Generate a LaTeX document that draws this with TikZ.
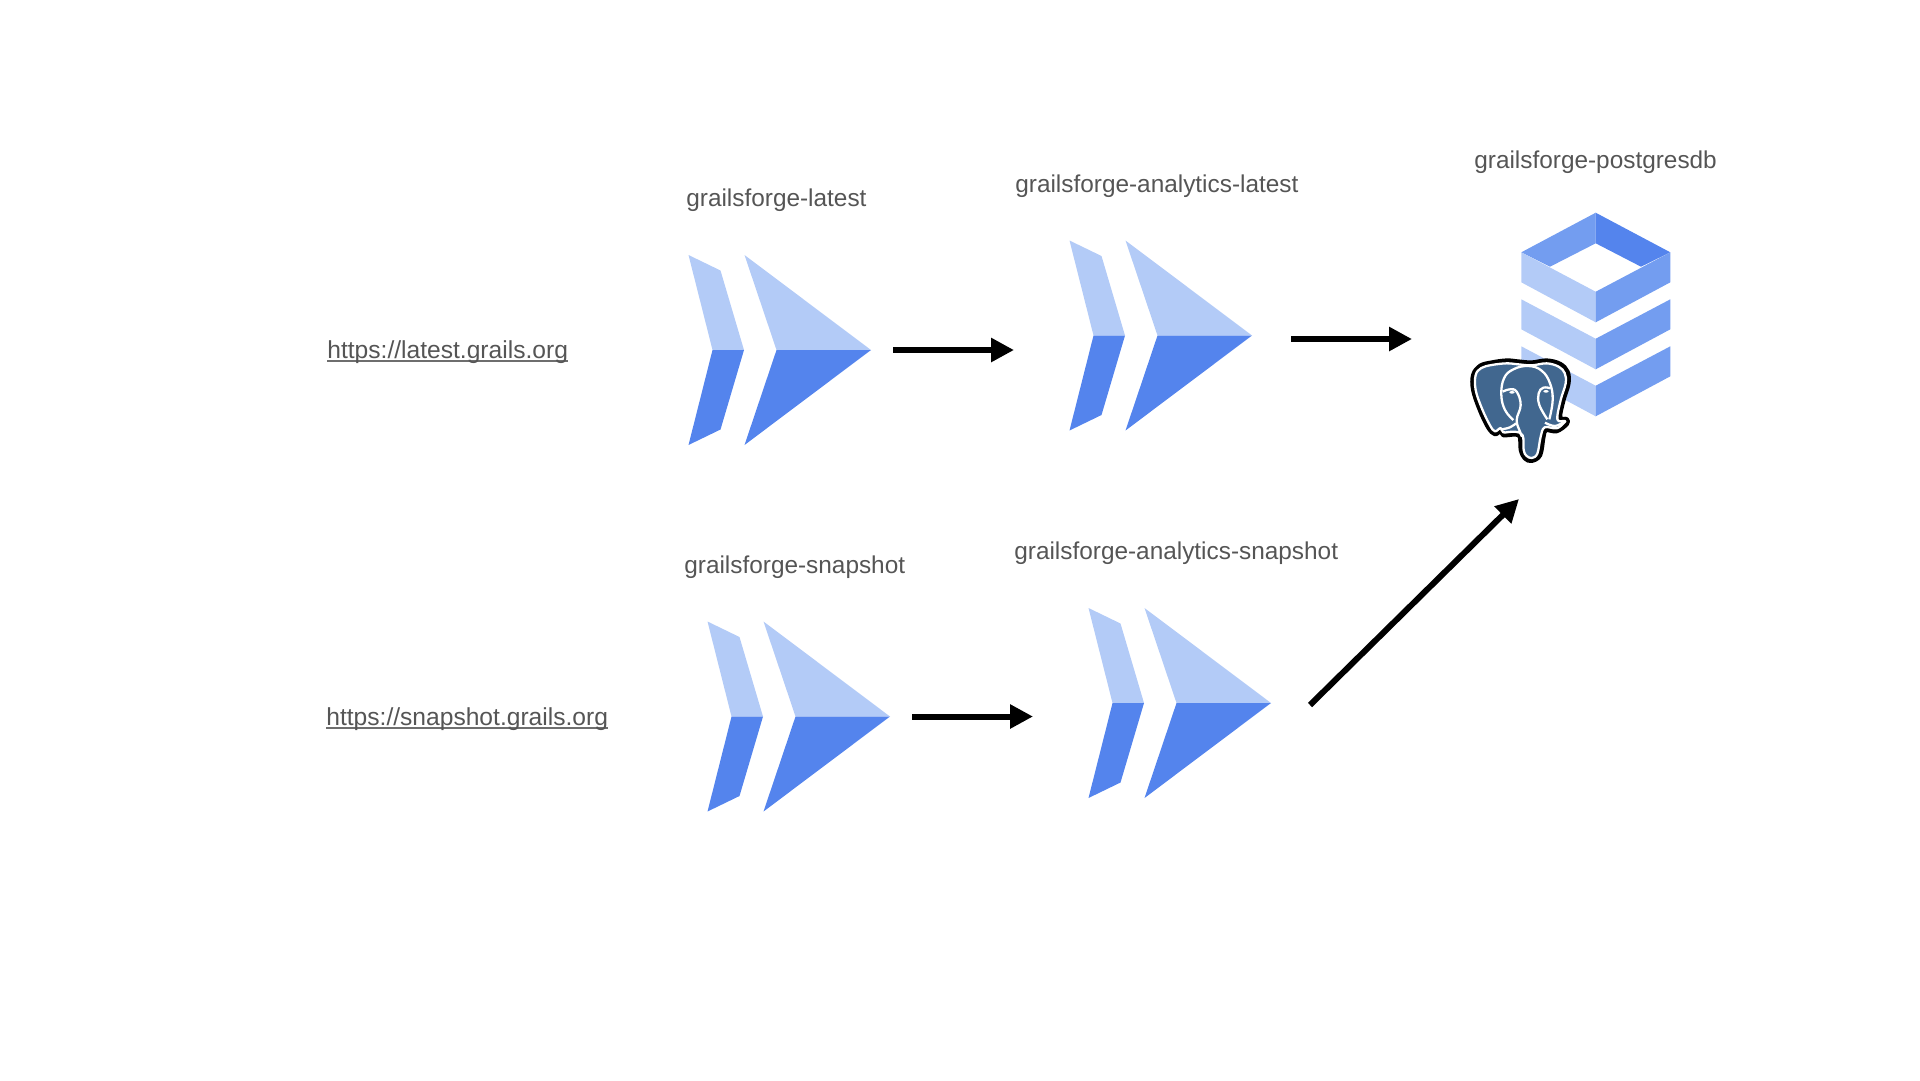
\documentclass[tikz,border=0pt]{standalone}
\usepackage{fontspec}
\setmainfont{Liberation Sans}
\definecolor{lightblue}{HTML}{B3CBF7}
\definecolor{midblue}{HTML}{739DF0}
\definecolor{darkblue}{HTML}{5484ED}
\definecolor{pgblue}{HTML}{41678F}
\definecolor{labelgray}{HTML}{555555}
\usetikzlibrary{arrows.meta}
\newcommand{\urlline}[1]{\setbox0\hbox{\fontsize{14}{16}\selectfont #1}\rlap{\color{labelgray!85}\rule[-2.1pt]{\wd0}{0.7pt}}\box0}
\tikzset{
  label/.style={anchor=base west,inner sep=0pt,text=labelgray,font=\fontsize{13.87}{16}\selectfont},
  chevbox/.style={inner sep=0pt,minimum width=3.65cm,minimum height=3.8cm},
  flow/.style={line width=3.4pt,-{Triangle[length=13pt,width=13pt]},black},
  pgline/.style={white,line width=1.3pt}
}
\begin{document}
\begin{tikzpicture}
        [
          x=0.02cm,
          y=-0.02cm
        ]
        \useasboundingbox (0,0) rectangle (1920,1080);
        % chevrons
        \foreach \name/\x/\y in {latest/688.5/350,analyticslatest/1069.5/335.5,snapshot/707.5/716.5,analyticssnapshot/1088.5/703} {
            \node [chevbox] (\name) at (\x+91.25,\y) {};
            \begin{scope}[shift={(\x,\y)}]
                \fill [lightblue] (0,-95) -- (32,-79.5) -- (55.5,0) -- (24,0) -- cycle;
                \fill [lightblue] (56,-95) -- (182.5,0) -- (88,0) -- cycle;
                \fill [darkblue] (0,95) -- (32,79.5) -- (55.5,0) -- (24,0) -- cycle;
                \fill [darkblue] (56,95) -- (182.5,0) -- (88,0) -- cycle;
            \end{scope}
        }
        % database stack
        \node [inner sep=0pt,minimum width=2.98cm,minimum height=4.06cm] (postgresdb) at (1595.7,314) {};
        \fill [midblue] (1521.3,252.3) -- (1595.7,212.7) -- (1595.7,243.3) -- (1550,266.7) -- cycle;
        \fill [darkblue] (1670.3,252.3) -- (1595.7,212.7) -- (1595.7,243.3) -- (1641,266.7) -- cycle;
        \foreach \z in {0,47,94} {
            \fill [lightblue] (1521.3,252.3+\z) -- (1595.7,291.7+\z) -- (1595.7,322.3+\z) -- (1521.3,282.3+\z) -- cycle;
            \fill [midblue] (1670.3,252.3+\z) -- (1595.7,291.7+\z) -- (1595.7,322.3+\z) -- (1670.3,282.3+\z) -- cycle;
        }
        % elephant
        \begin{scope}[shift={(1460,340)},x=0.00667cm,y=-0.00667cm]
            \draw [black,line width=2.6pt,fill=pgblue,line join=round]
            plot [smooth cycle,tension=0.6] coordinates {(95,68) (60,78) (40,105) (40,150) (60,210) (85,262) (105,282) (122,272) (130,285) (165,283) (180,290) (183,330) (195,355) (215,362) (240,345) (250,290) (258,270) (290,273) (320,252) (320,238) (300,232) (310,180) (325,130) (322,95) (300,72) (260,62) (215,68) (175,65) (140,62)};
            \draw [pgline,line join=round]
            plot [smooth cycle,tension=0.6] coordinates {(95,75) (64,84) (47,105) (47,150) (66,206) (90,256) (105,274) (122,264) (130,277) (165,275) (188,286) (191,330) (199,347) (215,354) (232,341) (242,290) (254,262) (290,265) (312,248) (314,243) (292,238) (302,180) (317,130) (314,99) (296,80) (260,70) (215,76) (175,73) (140,70)};
            \draw [pgline]
            plot [smooth,tension=0.7] coordinates {(160,240) (135,210) (124,165) (132,115) (160,88) (205,78) (245,92) (270,130) (278,180) (268,238)};
            \draw [pgline]
            plot [smooth,tension=0.7] coordinates {(128,155) (150,148) (170,155) (182,195) (170,240) (180,275) (186,290)};
            \draw [pgline]
            plot [smooth,tension=0.7] coordinates {(272,145) (250,143) (236,160) (238,195) (262,238)};
            \draw [pgline]
            plot [smooth,tension=0.7] coordinates {(125,268) (150,262) (168,250)};
            \draw [pgline]
            plot [smooth,tension=0.7] coordinates {(255,248) (285,258) (312,245)};
            \fill [white] (156,157) ellipse (8 and 4);
            \fill [white] (258,154) ellipse (8 and 4);
        \end{scope}
        % labels
        \node [label] (latestname) at (686,206) {grailsforge-latest};
        \node [label] (analyticslatestname) at (1015,192) {grailsforge-analytics-latest};
        \node [label] (dbname) at (1474,168.5) {grailsforge-postgresdb};
        \node [label] (snapshotname) at (684,573) {grailsforge-snapshot};
        \node [label] (analyticssnapshotname) at (1014,559) {grailsforge-analytics-snapshot};
        \node [label] (latesturl) at (327,358) {\urlline{https://latest.grails.org}};
        \node [label] (snapshoturl) at (326,725) {\urlline{https://snapshot.grails.org}};
        % connector ends
        \coordinate (latestin) at (1014,350);
        \coordinate (analyticslatestout) at (1291,339);
        \coordinate (dbin) at (1412,339);
        \coordinate (snapshotin) at (1033,716.5);
        \coordinate (analyticssnapshotout) at (1310,705);
        \coordinate (dbinlow) at (1519,499);
        % arrows
        \draw [flow,shorten <=12.5pt] (latest.east) -- (latestin);
        \draw [flow] (analyticslatestout) -- (dbin);
        \draw [flow,shorten <=12.5pt] (snapshot.east) -- (snapshotin);
        \draw [flow] (analyticssnapshotout) -- (dbinlow);
      \end{tikzpicture}
\end{document}
